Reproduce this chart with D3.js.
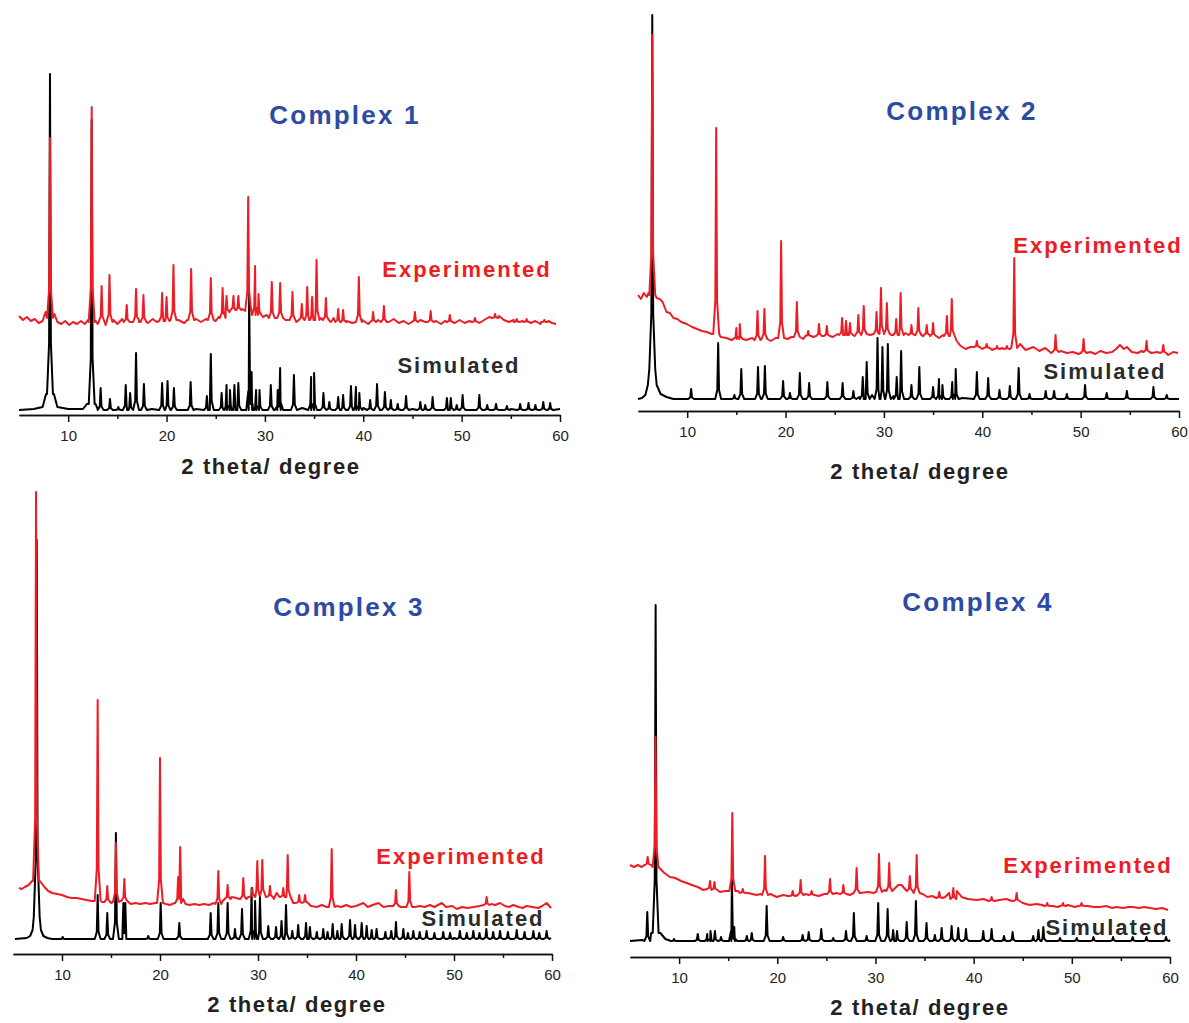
<!DOCTYPE html>
<html>
<head>
<meta charset="utf-8">
<script src="https://cdn.jsdelivr.net/npm/d3@7"></script>
<style>
  body { margin: 0; background: #fff; }
  svg { display: block; }
  .tick text { font-family: "Liberation Sans", Arial, sans-serif; font-size: 15px; fill: #222; }
  .axis path, .axis line { stroke: #111; stroke-width: 1.5px; }
</style>
</head>
<body>
<svg id="chart"></svg>
<script>
// 2 theta range and ticks shared by all four patterns
const thetaRange = [5, 60];
const majorTicks = [10, 20, 30, 40, 50, 60];
const minorTicks = [15, 25, 35, 45, 55];
const titles = ["Complex 1", "Complex 2", "Complex 3", "Complex 4"];

// peaks: [2theta, top] (base 0) or [2theta, base, top]; background: [2theta, intensity]
// ---- Complex 1
const p1SimBg = [[5,0],[6.5,1],[7.4,3],[7.75,16],[8.55,16],[8.9,3],[10,1],[11.5,1],[11.9,6],[12.78,6],[13,1],[18.5,1],[23,1],[33.8,2],[40,2],[45,1],[50,2],[55,1],[60,1]];
const p1SimPeaks = [[8.15,16,336],[12.39,6,290],[13.3,22],[14.25,11],[15.1,3],[15.85,25],[16.3,17],[16.9,57],[17.7,26],[19.55,27],[20.1,29],[20.75,22],[22.45,28],[24.1,14],[24.5,56],[25.6,17],[26.1,25],[26.45,20],[26.9,25],[27.3,27],[28.4,117],[28.65,38],[29.1,20],[29.45,20],[30.6,25],[31.3,20],[31.55,42],[32.95,35],[34.7,33],[35.0,37],[35.95,17],[36.55,8],[37.45,13],[37.95,15],[38.75,24],[39.25,23],[39.6,17],[40.7,10],[41.4,26],[42.2,18],[42.8,10],[43.5,6],[44.35,14],[45.8,8],[46.3,5],[47.05,13],[48.5,12],[48.9,12],[49.5,5],[50.1,15],[51.8,15],[52.6,5],[53.5,6],[54.6,4],[55.95,6],[56.8,7],[57.5,5],[58.3,8],[59.0,7]];
const p1ExpBg = [[5,94],[5.4,90],[5.8,93],[6.2,89],[6.6,91],[7.0,87],[7.4,89],[7.7,98],[8.6,96],[8.9,88],[9.3,86],[9.7,89],[10.1,85],[10.5,88],[10.9,86],[11.3,89],[11.7,86],[12.0,90],[12.8,89],[13.0,86],[13.8,85],[14.6,90],[15.0,86],[15.5,91],[16.4,88],[17.2,90],[18.1,87],[18.6,91],[19.0,88],[21.2,90],[21.8,87],[22.1,90],[23.0,91],[23.5,88],[24.0,91],[25.0,89],[25.3,93],[27.7,101],[28.0,99],[29.8,93],[30.2,95],[31.1,92],[32.1,90],[33.2,88],[34.0,95],[35.7,92],[36.7,88],[37.0,92],[38.3,89],[38.9,87],[39.9,90],[40.5,86],[41.5,90],[42.6,88],[43.1,91],[43.6,87],[44.1,89],[44.6,86],[45.8,90],[46.3,88],[47.4,89],[47.9,86],[48.3,89],[49.3,87],[49.8,90],[50.3,87],[50.8,89],[51.8,87],[52.3,90],[52.8,93],[53.8,94],[54.3,90],[54.8,88],[55.3,90],[55.9,88],[56.2,89],[57.0,87],[57.5,89],[58.0,86],[58.8,89],[59.2,87],[59.6,86]];
const p1ExpPeaks = [[8.15,92,272],[12.39,88,303],[13.4,88,124],[14.2,88,135],[15.95,88,105],[16.9,88,121],[17.65,88,115],[19.55,89,117],[20.0,89,113],[20.7,90,145],[22.5,90,141],[24.5,90,132],[25.7,92,122],[26.1,98,114],[26.8,100,114],[27.3,100,114],[28.3,100,213],[29.0,95,144],[29.35,95,116],[30.7,92,128],[31.55,92,127],[32.8,90,118],[33.75,90,106],[34.3,90,123],[34.8,90,113],[35.25,90,150],[36.2,90,112],[37.45,88,101],[37.95,88,100],[39.55,88,133],[41.0,88,98],[42.1,88,104],[45.25,88,98],[46.85,88,99],[48.8,88,95],[51.35,88,92],[53.4,92,96],[55.6,88,91],[56.6,88,91],[58.4,88,90]];

// ---- Complex 2
const p2SimBg = [[5,0],[5.4,1],[5.75,4],[6.0,14],[6.9,14],[7.3,5],[7.9,2],[8.6,0],[12,0],[27.5,2],[28.8,4],[31,3],[36,3],[38,1],[60,0]];
const p2SimPeaks = [[6.45,30,384],[10.4,10],[13.15,56],[14.8,4],[15.5,30],[17.2,32],[17.9,33],[19.75,18],[20.45,6],[21.45,26],[22.4,16],[24.25,17],[25.8,16],[26.9,8],[27.85,22],[28.25,37],[29.35,61],[29.85,52],[30.4,55],[31.3,22],[31.75,48],[32.8,14],[33.6,32],[35.0,12],[35.6,20],[35.95,14],[36.95,17],[37.3,30],[39.45,27],[40.6,21],[41.75,9],[42.8,13],[43.7,31],[44.8,5],[46.45,8],[47.3,8],[48.6,5],[50.45,14],[52.65,6],[54.7,8],[57.4,12],[58.75,4]];
const p2ExpBg = [[5,104],[5.3,100],[5.6,106],[5.9,102],[6.05,106],[6.9,101],[7.2,100],[7.5,97],[7.9,87],[8.25,86],[8.6,81],[9.0,80],[9.4,77],[9.95,75],[10.5,72],[11.0,70],[11.5,68],[12.0,67],[12.5,65],[13.4,62],[14.0,61],[14.5,59],[16.0,59],[16.6,61],[18.5,58],[19.0,61],[20.2,60],[20.6,62],[21.8,60],[22.8,62],[23.8,63],[24.8,62],[25.3,65],[27.0,63],[28.6,64],[30.8,64],[32.2,66],[34.0,63],[34.7,62],[35.6,61],[36.0,64],[37.4,58],[37.8,53],[38.3,50],[38.8,52],[40.0,50],[41.0,49],[42.0,51],[43.85,55],[44.4,49],[45.2,52],[45.8,48],[46.4,51],[47.0,46],[48.0,48],[48.6,46],[49.2,47],[49.8,45],[51.0,47],[51.5,45],[52.0,48],[52.6,46],[53.2,47],[53.6,50],[54.0,54],[54.4,50],[54.7,52],[55.2,47],[55.8,46],[56.2,48],[57.2,46],[57.8,47],[58.9,44],[59.4,47],[59.9,46]];
const p2ExpPeaks = [[6.45,104,364],[12.95,65,271],[15.0,60,71],[15.35,60,75],[17.15,59,88],[17.85,60,90],[19.55,61,158],[21.15,62,97],[22.3,63,68],[23.4,63,75],[24.2,63,73],[25.75,64,81],[26.15,64,78],[26.55,64,76],[27.4,64,84],[27.95,65,93],[29.25,65,87],[29.7,66,111],[30.3,65,96],[31.25,64,80],[31.7,64,106],[32.8,64,74],[33.5,64,91],[34.35,64,74],[35.0,63,76],[36.4,63,83],[36.9,63,100],[39.45,52,58],[40.45,51,55],[41.5,50,53],[42.5,50,53],[43.25,51,141],[47.45,47,64],[50.3,46,60],[56.7,47,58],[58.4,46,54]];

// ---- Complex 3
const p3SimBg = [[5.2,0],[6.4,1],[6.75,3],[7.0,9],[7.85,9],[8.1,3],[8.5,1],[9,0],[24,0],[25,1],[33,2],[40,2],[50,1],[59.9,1]];
const p3SimPeaks = [[7.42,22,399],[10.07,2],[13.64,44],[14.62,26],[15.5,106],[16.26,36],[16.46,36],[18.8,3],[20.07,36],[21.97,16],[25.17,26],[25.95,36],[26.9,36],[27.65,10],[28.37,30],[29.35,51],[29.7,38],[30.2,42],[31.05,13],[31.84,12],[32.4,18],[32.86,34],[33.5,8],[34.1,14],[34.9,16],[35.3,12],[36.0,7],[36.66,10],[37.1,7],[37.62,15],[38.1,8],[38.54,15],[39.39,19],[39.9,14],[40.58,16],[41.09,13],[41.6,9],[42.1,10],[43.0,7],[43.6,8],[44.08,17],[44.83,10],[45.3,6],[45.85,8],[46.5,7],[47.2,8],[48.0,6],[48.9,7],[49.6,6],[50.6,8],[51.3,6],[51.97,8],[52.6,6],[53.3,10],[54.0,7],[54.7,8],[55.5,7],[56.4,9],[57.2,7],[58.1,8],[58.7,6],[59.45,8]];
const p3ExpBg = [[5.6,51],[5.9,50],[6.2,52],[6.6,54],[6.95,58],[7.75,58],[8.2,52],[8.6,48],[9.0,46],[9.5,45],[10.0,44],[10.5,42],[11.0,41],[11.5,41],[12.0,40],[12.5,39],[13.0,38],[14.1,37],[15.0,36],[15.9,38],[17.0,35],[17.5,36],[18.0,35],[18.5,36],[19.0,35],[19.5,36],[20.6,35],[21.0,34],[21.5,36],[22.6,35],[23.0,34],[23.5,35],[24.0,34],[24.5,35],[25.0,34],[25.5,36],[26.4,38],[27.3,42],[27.8,41],[28.1,40],[29.0,42],[30.8,42],[31.6,40],[31.9,46],[32.2,42],[33.6,36],[35.4,33],[36.0,32],[36.5,34],[37.0,32],[38.0,33],[38.5,32],[39.0,34],[39.5,32],[40.0,33],[40.75,36],[41.2,32],[41.7,34],[42.3,36],[42.8,32],[43.4,33],[44.6,32],[46.0,32],[46.5,33],[47.0,32],[47.55,34],[48.0,32],[48.75,36],[49.2,32],[49.8,33],[50.3,30],[50.8,32],[51.4,31],[52.0,32],[52.6,33],[53.8,35],[54.2,34],[54.7,36],[55.2,33],[55.6,32],[56.05,34],[56.6,32],[57.0,31],[57.4,33],[58.0,32],[58.6,31],[59.0,33],[59.45,36],[59.9,31]];
const p3ExpPeaks = [[7.35,58,447],[13.64,38,239],[14.62,37,53],[15.5,37,96],[16.36,38,60],[20.0,36,181],[21.85,36,62],[22.06,40,92],[25.95,35,68],[26.9,40,54],[28.5,40,61],[29.42,42,51],[29.93,44,78],[30.44,44,79],[31.22,42,53],[32.58,42,51],[33.03,42,84],[34.2,36,44],[34.8,36,44],[37.52,32,90],[44.08,33,49],[45.44,32,67],[53.33,34,42]];

// ---- Complex 4
const p4SimBg = [[5,0],[6.3,1],[7.15,8],[8.1,8],[8.6,2],[9.2,0],[30,1],[60,1]];
const p4SimPeaks = [[6.76,29],[7.61,8,336],[9.48,2],[11.9,7],[12.87,7],[13.2,10],[13.65,10],[14.27,4],[15.38,61],[15.62,14],[16.9,5],[17.4,8],[18.92,35],[20.6,4],[22.58,6],[23.2,9],[24.48,12],[25.7,3],[27.0,10],[27.8,28],[29.1,5],[30.28,38],[31.24,32],[31.8,11],[32.2,10],[33.18,19],[34.12,40],[35.2,18],[36.05,6],[36.74,13],[37.76,15],[38.43,13],[39.22,12],[40.98,10],[41.83,12],[43.09,5],[43.97,9],[46.07,5],[46.6,11],[47.1,14],[48.8,3],[50.5,3],[52.2,4],[54.2,4],[56.2,4],[57.6,4],[59.6,4]];
const p4ExpBg = [[5,76],[5.4,74],[5.8,76],[6.2,74],[6.45,76],[7.15,76],[8.0,73],[8.5,68],[9.07,64],[9.6,63],[10.2,60],[10.77,58],[11.3,56],[11.9,54],[12.46,51],[14.16,49],[14.7,50],[16.0,50],[17.0,48],[17.9,46],[18.3,47],[19.3,47],[19.94,44],[20.6,46],[21.1,45],[22.9,47],[24.2,45],[24.8,47],[26.0,48],[27.4,46],[29.27,49],[29.8,48],[30.9,51],[32.32,56],[32.66,56],[33.0,52],[34.8,47],[35.3,44],[35.8,45],[37.1,44],[37.5,48],[38.3,50],[38.78,44],[39.4,42],[40.3,41],[41.0,42],[42.6,41],[43.33,42],[43.9,40],[45.0,38],[45.7,36],[46.4,37],[47.0,36],[48.0,35],[48.6,34],[49.6,36],[50.3,34],[51.6,35],[52.3,34],[52.86,34],[53.5,35],[54.1,33],[54.56,34],[55.2,33],[55.8,34],[56.25,34],[56.8,33],[57.4,34],[57.95,33],[58.6,32],[59.2,33],[59.8,31]];
const p4ExpPeaks = [[6.8,76,84],[7.6,74,204],[13.15,52,60],[13.6,51,59],[15.42,50,128],[16.48,48,52],[18.75,46,85],[21.57,45,50],[22.38,46,61],[23.5,46,50],[25.37,47,62],[26.73,47,56],[28.08,48,73],[30.36,49,87],[31.4,50,78],[33.5,50,65],[34.2,48,86],[36.5,43,49],[37.93,42,53],[41.83,40,44],[44.38,40,48],[47.5,35,38],[49.1,35,38],[50.99,35,38]];

const sim = [[p1SimBg, p1SimPeaks], [p2SimBg, p2SimPeaks], [p3SimBg, p3SimPeaks], [p4SimBg, p4SimPeaks]];
const exp = [[p1ExpBg, p1ExpPeaks], [p2ExpBg, p2ExpPeaks], [p3ExpBg, p3ExpPeaks], [p4ExpBg, p4ExpPeaks]];

// panel placement on the page (pixels)
const layout = [
  { x0: 19,  x1: 560,  base: 410, axis: 415, title: [345, 124], exp: [467, 277], sim: [459, 373], xlab: [271, 474] },
  { x0: 638, x1: 1179, base: 399, axis: 411, title: [962, 120], exp: [1098, 253], sim: [1105, 379], xlab: [920, 479] },
  { x0: 13,  x1: 552,  base: 939, axis: 954, title: [349, 616], exp: [461, 864], sim: [483, 926], xlab: [297, 1012] },
  { x0: 630, x1: 1170, base: 941, axis: 957, title: [978, 611], exp: [1088, 873], sim: [1107, 935], xlab: [920, 1015] }
];

const width = 1189, height = 1023;
const font = '"Liberation Sans", Arial, Helvetica, sans-serif';

const svg = d3.select("#chart")
  .attr("width", width)
  .attr("height", height);

// join background points and peak triangles into one trace
function traceVertices(background, peaks) {
  const w = 0.3, s = 0.09;
  const pts = background.filter(([x]) => !peaks.some(p => Math.abs(x - p[0]) < w));
  peaks.forEach(p => {
    const [x, b, t] = p.length === 2 ? [p[0], 0, p[1]] : p;
    const sh = b + (t - b) * 0.16;
    pts.push([x - w, b], [x - s, sh], [x, t], [x + s, sh], [x + w, b]);
  });
  return pts.sort((a, b) => a[0] - b[0]);
}

function label(g, pos, txt, size, spacing, color) {
  g.append("text")
    .attr("x", pos[0])
    .attr("y", pos[1])
    .attr("font-family", font)
    .style("font-size", size + "px")
    .style("font-weight", "bold")
    .style("letter-spacing", spacing + "px")
    .style("text-anchor", "middle")
    .attr("fill", color)
    .text(txt);
}

layout.forEach((L, i) => {
  const g = svg.append("g");

  const x = d3.scaleLinear().domain(thetaRange).range([L.x0, L.x1]);
  const y = d3.scaleLinear().domain([0, 400]).range([L.base, L.base - 400]);

  const line = d3.line()
    .x(d => x(d[0]))
    .y(d => y(d[1]));

  g.append("path")
    .datum(traceVertices(sim[i][0], sim[i][1]))
    .attr("d", line)
    .attr("fill", "none")
    .attr("stroke", "#000")
    .attr("stroke-width", 2)
    .attr("stroke-linejoin", "round");

  g.append("path")
    .datum(traceVertices(exp[i][0], exp[i][1]))
    .attr("d", line)
    .attr("fill", "none")
    .attr("stroke", "#ee1c25")
    .attr("stroke-width", 2)
    .attr("stroke-linejoin", "round");

  g.append("g")
    .attr("class", "axis")
    .attr("transform", "translate(0," + L.axis + ")")
    .call(d3.axisBottom(x).tickValues(majorTicks).tickSize(7).tickSizeOuter(0).tickPadding(8));

  g.append("g")
    .attr("class", "axis")
    .attr("transform", "translate(0," + L.axis + ")")
    .call(d3.axisBottom(x).tickValues(minorTicks).tickSize(4).tickSizeOuter(0).tickFormat(""));

  label(g, L.xlab, "2 theta/ degree", 22, 1.6, "#222");
  label(g, L.title, titles[i], 26, 2.2, "#2d4ba3");
  label(g, L.exp, "Experimented", 22, 2, "#ee1c25");
  label(g, L.sim, "Simulated", 22, 2, "#2b2b2b");
});
</script>
</body>
</html>
